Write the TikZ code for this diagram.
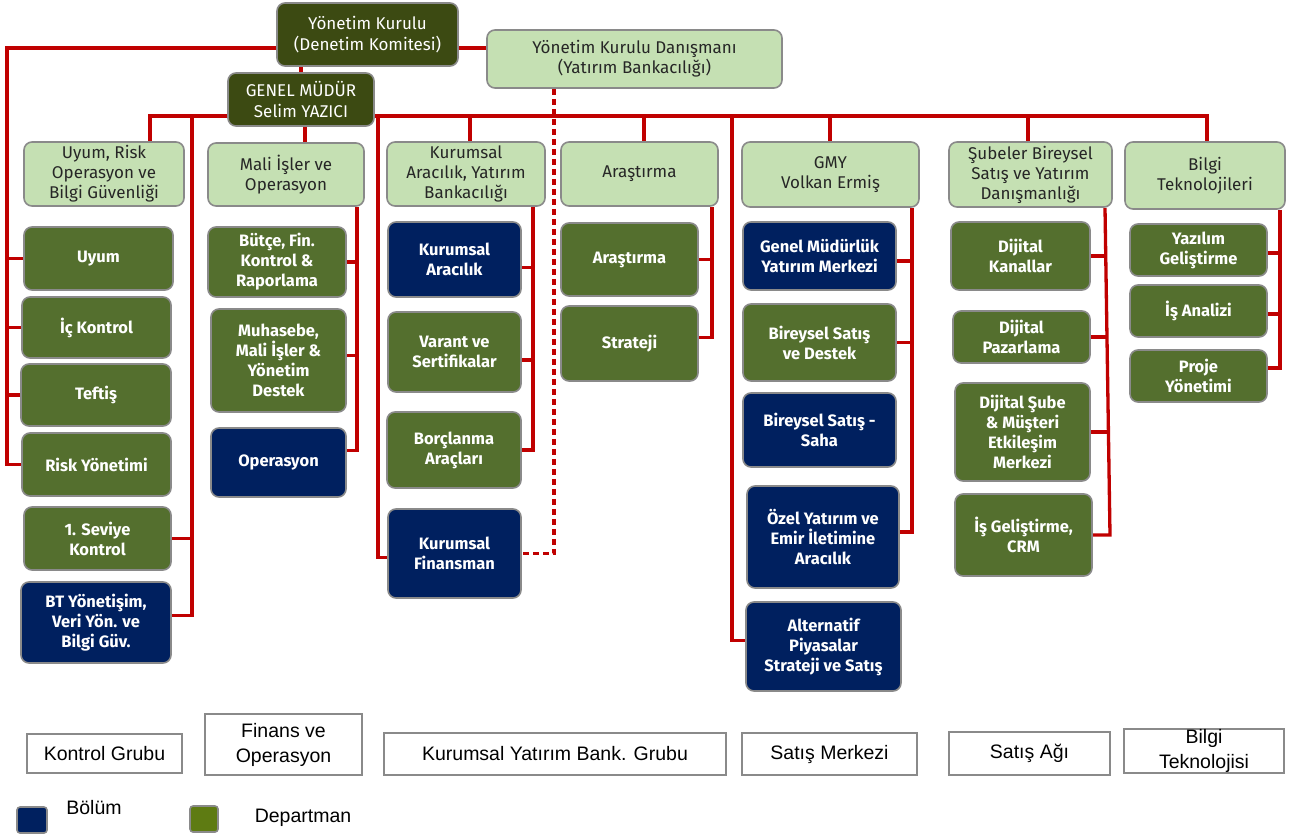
\documentclass[tikz,border=0pt]{standalone}
\usepackage{fontspec}
\setmainfont{Fira Sans}
\newfontfamily\grpfont{Liberation Sans}
\usetikzlibrary{backgrounds}
\definecolor{lred}{HTML}{C00000}
\definecolor{topol}{HTML}{3C4A12}
\definecolor{lgreen}{HTML}{C5E0B3}
\definecolor{dgreen}{HTML}{546F2E}
\definecolor{navyb}{HTML}{00205F}
\definecolor{bgray}{HTML}{8A8A8A}
\definecolor{leggreen}{HTML}{5E7B12}
\newcommand\obox[7]{\node[#1, minimum width={(#5-#3)*1pt}, minimum height={(#6-#4)*1pt}] (#2) at ({(#3+#5)/2},{(#4+#6)/2}) {#7};}
\tikzset{
  link/.style={draw=lred, line width=3.3pt},
  dlink/.style={link, dash pattern=on 6pt off 4pt},
  basebox/.style={rounded corners=8pt, draw=bgray, line width=1.6pt, align=center, inner sep=0pt},
  topbox/.style={basebox, fill=topol, text=white, font=\fontsize{17}{21}\selectfont},
  lbox/.style={basebox, fill=lgreen, text=black!85, font=\fontsize{17}{20}\selectfont},
  deptbox/.style={basebox, fill=dgreen, text=white, font=\bfseries\fontsize{16.5}{20}\selectfont},
  divbox/.style={basebox, fill=navyb, text=white, font=\bfseries\fontsize{16.5}{20}\selectfont},
  grpbox/.style={draw=bgray, line width=1.3pt, fill=white, align=center, inner sep=0pt, font=\grpfont\fontsize{19.5}{25}\selectfont},
  legtext/.style={font=\grpfont\fontsize{19.5}{22}\selectfont, inner sep=0pt}
}
\begin{document}
\begin{tikzpicture}[x=1pt,y=-1pt]
\useasboundingbox (0,0) rectangle (1290,836);
% top
\obox{topbox}{yk}{277}{3}{458}{66}{Yönetim Kurulu\\(Denetim Komitesi)}
\obox{lbox}{dan}{487}{30}{782}{88}{Yönetim Kurulu Danışmanı\\(Yatırım Bankacılığı)}
\obox{topbox}{gm}{228}{73}{374}{126}{GENEL MÜDÜR\\Selim YAZICI}
% level 1
\obox{lbox}{la}{24}{142}{184}{206}{Uyum, Risk\\Operasyon ve\\Bilgi Güvenliği}
\obox{lbox}{lb}{208}{143}{364}{206}{Mali İşler ve\\Operasyon}
\obox{lbox}{lc}{387}{142}{545}{206}{Kurumsal\\Aracılık, Yatırım\\Bankacılığı}
\obox{lbox}{ld}{561}{142}{718}{206}{Araştırma}
\obox{lbox}{le}{742}{142}{919}{207}{GMY\\Volkan Ermiş}
\obox{lbox}{lf}{949}{142}{1112}{207}{Şubeler Bireysel\\Satış ve Yatırım\\Danışmanlığı}
\obox{lbox}{lg}{1125}{142}{1285}{209}{Bilgi\\Teknolojileri}
% column 1
\obox{deptbox}{uyum}{24}{227}{173}{290}{Uyum}
\obox{deptbox}{ick}{22}{297}{171}{358}{İç Kontrol}
\obox{deptbox}{tef}{21}{364}{171}{426}{Teftiş}
\obox{deptbox}{risk}{22}{433}{171}{496}{Risk Yönetimi}
\obox{deptbox}{sev}{24}{507}{171}{570}{1. Seviye\\Kontrol}
\obox{divbox}{bt}{21}{582}{171}{663}{BT Yönetişim,\\Veri Yön. ve\\Bilgi Güv.}
% column 2
\obox{deptbox}{but}{208}{227}{346}{297}{Bütçe, Fin.\\Kontrol \&\\Raporlama}
\obox{deptbox}{muh}{211}{309}{346}{412}{Muhasebe,\\Mali İşler \&\\Yönetim\\Destek}
\obox{divbox}{ops}{211}{428}{346}{497}{Operasyon}
% column 3
\obox{divbox}{kar}{388}{222}{521}{297}{Kurumsal\\Aracılık}
\obox{deptbox}{var}{388}{312}{521}{392}{Varant ve\\Sertifikalar}
\obox{deptbox}{bor}{387}{412}{521}{488}{Borçlanma\\Araçları}
\obox{divbox}{kfin}{388}{509}{521}{598}{Kurumsal\\Finansman}
% column 4
\obox{deptbox}{ar}{561}{223}{698}{296}{Araştırma}
\obox{deptbox}{str}{561}{306}{698}{381}{Strateji}
% column 5
\obox{divbox}{gmym}{743}{222}{896}{290}{Genel Müdürlük\\Yatırım Merkezi}
\obox{deptbox}{bsd}{743}{304}{896}{381}{Bireysel Satış\\ve Destek}
\obox{divbox}{bss}{743}{393}{896}{467}{Bireysel Satış -\\Saha}
\obox{divbox}{ozel}{747}{486}{899}{588}{Özel Yatırım ve\\Emir İletimine\\Aracılık}
\obox{divbox}{alt}{746}{602}{901}{691}{Alternatif\\Piyasalar\\Strateji ve Satış}
% column 6
\obox{deptbox}{dk}{951}{222}{1090}{290}{Dijital\\Kanallar}
\obox{deptbox}{dp}{953}{311}{1090}{363}{Dijital\\Pazarlama}
\obox{deptbox}{ds}{955}{383}{1090}{481}{Dijital Şube\\\& Müşteri\\Etkileşim\\Merkezi}
\obox{deptbox}{ig}{955}{494}{1092}{576}{İş Geliştirme,\\CRM}
% column 7
\obox{deptbox}{yaz}{1130}{224}{1267}{276}{Yazılım\\Geliştirme}
\obox{deptbox}{isa}{1130}{285}{1267}{337}{İş Analizi}
\obox{deptbox}{pro}{1130}{350}{1267}{402}{Proje\\Yönetimi}
% groups
\obox{grpbox}{g1}{27}{734}{182}{773}{Kontrol Grubu}
\obox{grpbox}{g2}{205}{714}{362}{775}{Finans ve\\Operasyon}
\obox{grpbox}{g3}{384}{733}{726}{775}{Kurumsal Yatırım Bank. Grubu}
\obox{grpbox}{g4}{742}{733}{917}{775}{Satış Merkezi}
\obox{grpbox}{g5}{949}{732}{1110}{775}{Satış Ağı}
\obox{grpbox}{g6}{1124}{729}{1284}{773}{Bilgi\\Teknolojisi}
% legend
\obox{divbox, rounded corners=3pt}{leg1}{17}{807}{47}{833}{}
\node[legtext] (leg1t) at (94,808) {Bölüm};
\obox{deptbox, fill=leggreen, rounded corners=3pt}{leg2}{190}{806}{218}{832}{}
\node[legtext] (leg2t) at (303,818) {Departman};
% connectors
\begin{pgfonlayer}{background}
\coordinate (ylft) at (7,48);
\draw[link] (yk.west |- ylft) -- (ylft) |- (risk.west);
\foreach \n in {uyum,ick,tef} \draw[link] (ylft |- \n.west) -- (\n.west);
\draw[link] (yk.east |- ylft) -- (dan.west |- ylft);
\draw[link] (yk.south -| gm.north) -- (gm.north);
\coordinate (busL) at (150,116);
\coordinate (busR) at (1207,116);
\draw[link] (busL |- la.north) -- (busL) -- (busR) -- (busR |- lg.north);
\coordinate (c1) at (192,116);
\coordinate (btc) at ([yshift=7pt]bt.east);
\draw[link] (c1) |- (btc);
\draw[link] (c1 |- sev.east) -- (sev.east);
\draw[link] (305,116) -- (305,0 |- lb.north);
\coordinate (kfc) at ([yshift=-4pt]kfin.west);
\draw[link] (378,116) |- (kfc);
\draw[link] (470,116) -- (470,0 |- lc.north);
\coordinate (dsh) at (554,0);
\draw[dlink] (dan.south -| dsh) |- (kfin.east);
\draw[link] (644,116) -- (644,0 |- ld.north);
\coordinate (altc) at ([yshift=6pt]alt.west);
\draw[link] (732,116) |- (altc);
\draw[link] (830,116) -- (830,0 |- le.north);
\draw[link] (1028,116) -- (1028,0 |- lf.north);
% column brackets
\coordinate (b2) at (357,0);
\coordinate (opsc) at ([yshift=12pt]ops.east);
\coordinate (muhc) at ([yshift=5pt]muh.east);
\draw[link] (b2 |- lb.south) -- (b2 |- opsc) -- (opsc);
\draw[link] (but.east) -- (but.east -| b2);
\draw[link] (muhc) -- (muhc -| b2);
\coordinate (b3) at (533,0);
\coordinate (karc) at ([yshift=-8pt]kar.east);
\coordinate (varc) at ([yshift=-8pt]var.east);
\draw[link] (b3 |- lc.south) -- (b3 |- bor.east) -- (bor.east);
\draw[link] (karc) -- (karc -| b3);
\draw[link] (varc) -- (varc -| b3);
\coordinate (b4) at (712,0);
\coordinate (strc) at ([yshift=6pt]str.east);
\draw[link] (b4 |- ld.south) -- (b4 |- strc) -- (strc);
\draw[link] (ar.east) -- (ar.east -| b4);
\coordinate (b5) at (912,0);
\coordinate (ozc) at ([yshift=5pt]ozel.east);
\coordinate (gmc) at ([yshift=-5pt]gmym.east);
\draw[link] (b5 |- le.south) -- (b5 |- ozc) -- (ozc);
\draw[link] (gmc) -- (gmc -| b5);
\draw[link] (bsd.east) -- (bsd.east -| b5);
\coordinate (b6t) at (1105,0);
\coordinate (b6b) at (1110,0);
\coordinate (b6m) at (1107,0);
\draw[link] (b6t |- lf.south) -- (b6b |- ig.east) -- (ig.east);
\foreach \n in {dk,dp,ds} \draw[link] (\n.east) -- (\n.east -| b6m);
\coordinate (b7) at (1280,0);
\coordinate (proc) at ([yshift=8pt]pro.east);
\coordinate (yazc) at ([yshift=-3pt]yaz.east);
\coordinate (isac) at ([yshift=-3pt]isa.east);
\draw[link] (b7 |- lg.south) -- (b7 |- proc) -- (proc);
\draw[link] (yazc) -- (yazc -| b7);
\draw[link] (isac) -- (isac -| b7);
\end{pgfonlayer}
\end{tikzpicture}
\end{document}
